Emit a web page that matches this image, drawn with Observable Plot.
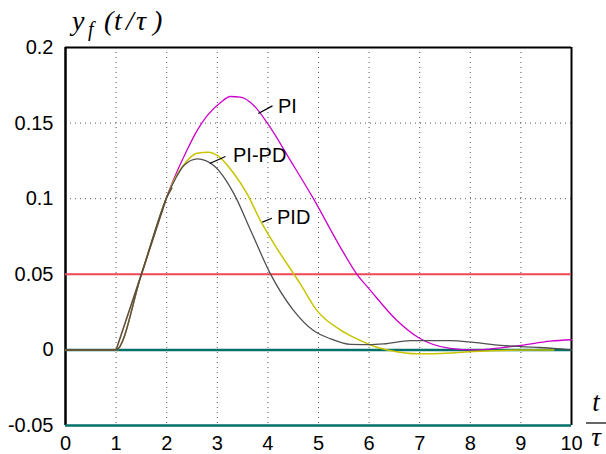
<!DOCTYPE html>
<html>
<head>
<meta charset="utf-8">
<script src="https://cdn.jsdelivr.net/npm/d3@7"></script>
<script src="https://cdn.jsdelivr.net/npm/@observablehq/plot@0.6"></script>
<style>
  html, body { margin: 0; padding: 0; background: #fff; }
  #chart { width: 606px; height: 454px; }
</style>
</head>
<body>
<div id="chart"></div>
<script>
// ---- data ----
const xTicks = [0, 1, 2, 3, 4, 5, 6, 7, 8, 9, 10];
const yTicks = [-0.05, 0, 0.05, 0.1, 0.15, 0.2];
const yTickLabels = ["-0.05", "0", "0.05", "0.1", "0.15", "0.2"];
const gridX = [1, 2, 3, 4, 5, 6, 7, 8, 9];
const gridY = [0.05, 0.1, 0.15];
const refLines = [0.05];          // red reference level
const baseLines = [0, -0.05];     // teal lines

// shared portion of the three responses (drawn on top, brownish overlap)
const commonT = [0, 1, 1.5, 2.0, 2.1];
const commonY = [0, 0, 0.05, 0.101, 0.107];

const piT = [0, 1, 1.5, 2.0, 2.08, 2.4, 2.6, 2.8, 3.06, 3.26, 3.46, 3.72, 3.99, 4.45, 4.9, 5.43, 5.76, 6.0, 6.55, 6.98, 7.6, 8.07, 8.6, 9.0, 9.58, 10];
const piY = [0, 0, 0.05, 0.101, 0.108, 0.132, 0.145, 0.155, 0.1635, 0.1676, 0.1672, 0.1617, 0.15, 0.125, 0.1, 0.068, 0.05, 0.0404, 0.0194, 0.008, 0.001, 0, 0.0014, 0.003, 0.0058, 0.0067];

const pidT = [0, 1, 1.5, 2.0, 2.17, 2.4, 2.6, 2.83, 3.0, 3.33, 3.59, 3.85, 4.18, 4.51, 4.64, 4.97, 5.43, 5.76, 6.15, 6.42, 6.95, 7.6, 8.07, 9.25, 9.65];
const pidY = [0, 0, 0.05, 0.101, 0.114, 0.125, 0.130, 0.1308, 0.1286, 0.1165, 0.1032, 0.0856, 0.067, 0.0503, 0.0437, 0.026, 0.0133, 0.0073, 0.0018, -0.0004, -0.0026, -0.002, -0.001, 0, 0];

const pipdT = [0, 1, 1.5, 2.0, 2.17, 2.34, 2.61, 2.93, 3.33, 3.66, 4.05, 4.51, 4.9, 5.24, 5.63, 6.0, 6.29, 6.82, 7.6, 8.07, 8.6, 9.25, 9.65, 10];
const pipdY = [0, 0, 0.05, 0.101, 0.113, 0.122, 0.1264, 0.122, 0.1032, 0.079, 0.0503, 0.026, 0.0128, 0.0073, 0.0036, 0.0035, 0.004, 0.0062, 0.0062, 0.005, 0.003, 0.0018, 0.001, 0];

// curve labels: name, text position (t, y), leader line from (t1,y1) to (t2,y2)
const labelNames = ["PI", "PI-PD", "PID"];
const labelT = [4.2, 3.31, 4.18];
const labelY = [0.161, 0.1286, 0.0878];
const leaderT1 = [3.81, 2.85, 3.89];
const leaderY1 = [0.1563, 0.1233, 0.0845];
const leaderT2 = [4.09, 3.16, 4.08];
const leaderY2 = [0.1614, 0.1279, 0.0871];

// ---- build tables ----
const pts = (ts, ys) => ts.map((t, i) => ({t, y: ys[i]}));
const piData = pts(piT, piY);
const pidData = pts(pidT, pidY);
const pipdData = pts(pipdT, pipdY);
const commonData = pts(commonT, commonY);
const labels = labelNames.map((n, i) => ({n, t: labelT[i], y: labelY[i], t1: leaderT1[i], y1: leaderY1[i], t2: leaderT2[i], y2: leaderY2[i]}));
const yLab = yTicks.map((v, i) => ({v, s: yTickLabels[i]}));

const font = "Liberation Sans, Arial, sans-serif";

const chart = Plot.plot({
  width: 606,
  height: 454,
  marginLeft: 65,
  marginRight: 35,
  marginTop: 47,
  marginBottom: 29,
  style: {fontFamily: font, background: "#fff", overflow: "visible"},
  x: {domain: [0, 10], axis: null},
  y: {domain: [-0.05, 0.2], axis: null},
  marks: [
    // dotted grid
    Plot.ruleX(gridX, {stroke: "#555", strokeWidth: 1, strokeDasharray: "1,4"}),
    Plot.ruleY(gridY, {stroke: "#555", strokeWidth: 1, strokeDasharray: "1,4"}),
    // frame: left, top, right
    Plot.ruleX([0], {stroke: "#000", strokeWidth: 2.5}),
    Plot.ruleX([10], {stroke: "#000", strokeWidth: 2}),
    Plot.ruleY([0.2], {stroke: "#000", strokeWidth: 2}),
    // reference lines
    Plot.ruleY(refLines, {stroke: "#f04858", strokeWidth: 2}),
    Plot.ruleY(baseLines, {stroke: "#007068", strokeWidth: 2.5}),
    // responses
    Plot.line(piData, {x: "t", y: "y", stroke: "#cc00cc", strokeWidth: 1.3, curve: "monotone-x"}),
    Plot.line(pidData, {x: "t", y: "y", stroke: "#c8c400", strokeWidth: 1.5, curve: "monotone-x"}),
    Plot.line(pipdData, {x: "t", y: "y", stroke: "#505050", strokeWidth: 1.3, curve: "monotone-x"}),
    Plot.line(commonData, {x: "t", y: "y", stroke: "#605038", strokeWidth: 1.6, curve: "linear"}),
    // labels with leader lines
    Plot.link(labels, {x1: "t1", y1: "y1", x2: "t2", y2: "y2", stroke: "#000", strokeWidth: 1.2}),
    Plot.text(labels, {x: "t", y: "y", text: "n", textAnchor: "start", fontSize: 20, fill: "#000"}),
    // tick labels
    Plot.text(xTicks, {x: d => d, y: -0.05, text: d => String(d), dy: 18, fontSize: 20, fill: "#000"}),
    Plot.text(yLab, {x: 0, y: "v", text: "s", textAnchor: "end", dx: -12, fontSize: 20, fill: "#000"})
  ]
});

// axis titles (italic serif math labels)
const svg = d3.select(chart.tagName.toLowerCase() === "svg" ? chart : chart.querySelector("svg"));
const serif = "Liberation Serif, Times New Roman, serif";
const yt = svg.append("text")
  .attr("x", 72).attr("y", 30).attr("text-anchor", "start")
  .attr("font-family", serif).attr("font-style", "italic").attr("font-size", 28).attr("fill", "#000");
yt.append("tspan").attr("x", 72).text("y");
yt.append("tspan").attr("x", 88).attr("font-size", 20).attr("dy", 6).text("f");
yt.append("tspan").attr("x", 104).attr("dy", -6).text("(");
yt.append("tspan").attr("x", 114).text("t");
yt.append("tspan").attr("x", 126).text("/");
yt.append("tspan").attr("x", 136).text("τ");
yt.append("tspan").attr("x", 153).text(")");

svg.append("text").attr("x", 596).attr("y", 411).attr("text-anchor", "middle")
  .attr("font-family", serif).attr("font-style", "italic").attr("font-size", 27).attr("fill", "#000").text("t");
svg.append("line").attr("x1", 586).attr("x2", 606).attr("y1", 423).attr("y2", 423)
  .attr("stroke", "#000").attr("stroke-width", 1.2);
svg.append("text").attr("x", 596).attr("y", 446).attr("text-anchor", "middle")
  .attr("font-family", serif).attr("font-style", "italic").attr("font-size", 27).attr("fill", "#000").text("τ");

document.getElementById("chart").appendChild(chart);
</script>
</body>
</html>
